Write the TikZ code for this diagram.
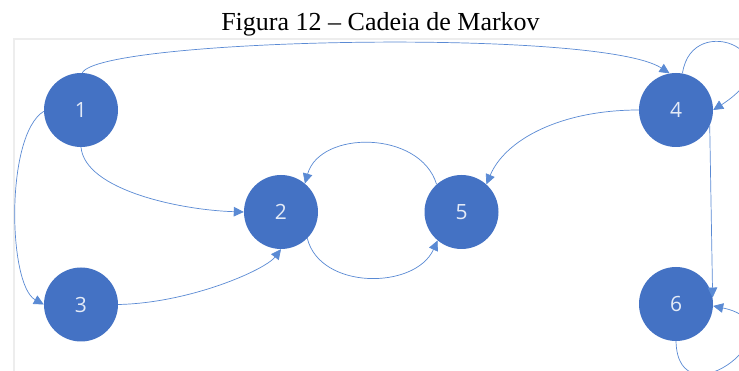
\documentclass[tikz,border=0pt]{standalone}
\usepackage{fontspec}
\setmainfont{Liberation Serif}
\newfontfamily\numfont{Open Sans}
\usetikzlibrary{arrows.meta}
\definecolor{nodeblue}{HTML}{4472C4}
\definecolor{edgeblue}{HTML}{5A8AD4}
\definecolor{numcol}{HTML}{E4EBF7}
\definecolor{framegray}{HTML}{EDEDED}
\tikzset{
  state/.style={circle, fill=nodeblue, draw=none, minimum size=74pt, inner sep=0pt, text=numcol, font=\numfont\fontsize{21}{21}\selectfont},
  trans/.style={draw=edgeblue, line width=0.7pt, -{Triangle[length=10pt,width=9.5pt]}, color=edgeblue}
}
\begin{document}
\begin{tikzpicture}[x=1pt,y=-1pt]
\useasboundingbox (0,0) rectangle (739,371);
\clip (0,0) rectangle (739,371);
\fill[white] (0,0) rectangle (739,371);
% title
\node[anchor=base, font=\fontsize{26}{26}\selectfont, inner sep=0pt] (title) at (380.5,31) {Figura 12 -- Cadeia de Markov};
% frame
\draw[framegray, line width=2pt] (739,39) -- (14,39) -- (14,371);
% nodes
\node[state] (n1) at (81,110) {1};
\node[state] (n2) at (281,212) {2};
\node[state] (n5) at (461.5,212) {5};
\node[state] (n3) at (81,304.5) {3};
\node[state] (n4) at (676,110) {4};
\node[state] (n6) at (676,304) {6};
% edges
\draw[trans] (n1.88) .. controls (100,38) and (600,28) .. (n4.100);
\draw[trans] (n4.80) .. controls (692,8) and (800,55) .. (n4.0);
\draw[trans] (n4.180) .. controls (560,110) and (505,140) .. (n5.48);
\draw[trans] (n4.-25) -- (n6.10);
\draw[trans] (n6.-90) .. controls (678,425) and (805,325) .. (n6.-3);
\draw[trans] (n1.182) .. controls (5,135) and (8,285) .. (n3.180);
\draw[trans] (n1.-90) .. controls (85,190) and (180,210) .. (n2.180);
\draw[trans] (n3.0) .. controls (190,303) and (265,270) .. (n2.-90);
\draw[trans] (n2.-45) .. controls (320,290) and (415,290) .. (n5.-130);
\draw[trans] (n5.132) .. controls (420,130) and (320,130) .. (n2.50);
\end{tikzpicture}
\end{document}
